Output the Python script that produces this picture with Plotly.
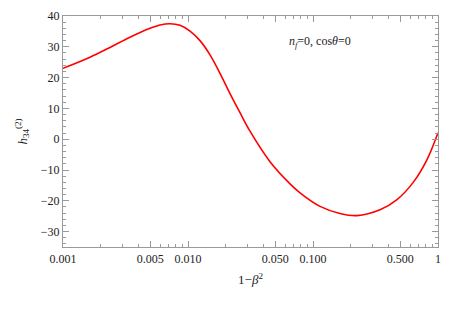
import plotly.graph_objects as go

# Data (x = 1-beta^2, y = h34^(2))
x_vals = [0.001, 0.001644, 0.002377, 0.003436, 0.00497, 0.00597, 0.00718, 0.00863,
          0.01038, 0.01247, 0.0150, 0.01803, 0.02168, 0.02606, 0.03133, 0.0453,
          0.0655, 0.0787, 0.1138, 0.1644, 0.2249, 0.3436, 0.470, 0.631, 0.817, 1.0]
y_vals = [23.0, 26.6, 29.8, 33.1, 36.0, 37.1, 37.5, 37.0,
          35.1, 32.0, 27.4, 21.4, 14.8, 8.6, 2.6, -7.3,
          -14.5, -17.4, -21.8, -24.1, -24.8, -22.9, -19.6, -14.1, -6.6, 2.1]

x_tickvals = [0.001, 0.005, 0.010, 0.050, 0.100, 0.500, 1]
x_ticktext = ["0.001", "0.005", "0.010", "0.050", "0.100", "0.500", "1"]
x_minor = [0.002, 0.003, 0.004, 0.006, 0.007, 0.008, 0.009,
           0.02, 0.03, 0.04, 0.06, 0.07, 0.08, 0.09,
           0.2, 0.3, 0.4, 0.6, 0.7, 0.8, 0.9]
y_tickvals = [-30, -20, -10, 0, 10, 20, 30, 40]
y_ticktext = ["\u221230", "\u221220", "\u221210", "0", "10", "20", "30", "40"]
y_minor = [v for v in range(-34, 41, 2) if v % 10 != 0]

font_family = "Liberation Serif, DejaVu Serif, serif"
axis_color = "#9a9a9a"

fig = go.Figure()
fig.add_trace(go.Scatter(x=x_vals, y=y_vals, mode="lines",
                         line=dict(color="#ff0000", width=1.6, shape="spline", smoothing=1.0),
                         showlegend=False))

fig.update_layout(
    width=446, height=303,
    margin=dict(l=55, r=16, t=8, b=64),
    paper_bgcolor="white", plot_bgcolor="white",
    font=dict(family=font_family, size=12, color="#222222"),
    xaxis=dict(
        type="log", range=[-3, 0], automargin=False,
        tickvals=x_tickvals, ticktext=x_ticktext,
        ticks="inside", ticklen=6, tickcolor=axis_color, tickwidth=1,
        minor=dict(tickvals=x_minor, ticks="inside", ticklen=3, tickcolor=axis_color),
        showline=True, linecolor=axis_color, linewidth=1.2, mirror="ticks",
        showgrid=False, zeroline=False,
        title=dict(text="1\u2212<i>\u03b2</i><sup>2</sup>", font=dict(size=13), standoff=10),
        tickfont=dict(size=12),
    ),
    yaxis=dict(
        range=[-35, 40], automargin=False,
        tickvals=y_tickvals, ticktext=y_ticktext,
        ticks="inside", ticklen=6, tickcolor=axis_color, tickwidth=1,
        minor=dict(tickvals=y_minor, ticks="inside", ticklen=3, tickcolor=axis_color),
        showline=True, linecolor=axis_color, linewidth=1.2, mirror="ticks",
        showgrid=False, zeroline=False,
        title=dict(text="<i>h</i><sub>34</sub><sup>(2)</sup>", font=dict(size=13), standoff=10),
        tickfont=dict(size=12),
    ),
    annotations=[dict(
        xref="paper", yref="paper", x=0.685, y=0.887, xanchor="center", yanchor="middle",
        text="<i>n<sub>f</sub></i>=0, cos<i>\u03b8</i>=0", showarrow=False,
        font=dict(size=12, family=font_family, color="#222222"),
    )],
)

fig.write_html("out.html")
